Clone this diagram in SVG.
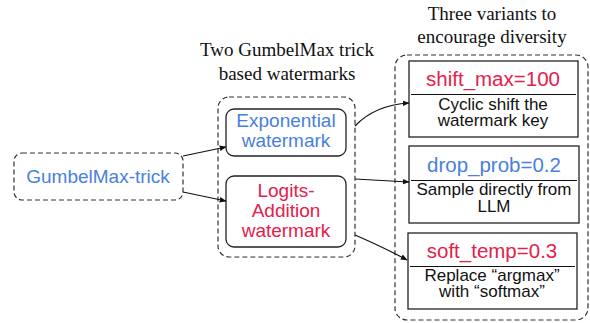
<svg xmlns="http://www.w3.org/2000/svg" width="590" height="323" viewBox="0 0 590 323">
<style>
.dash{fill:none;stroke:#333;stroke-width:1.2;stroke-dasharray:5,3}
.box{fill:#fff;stroke:#222;stroke-width:1.3}
.sans{font-family:"Liberation Sans",Arial,sans-serif;text-anchor:middle}
.serif{font-family:"Liberation Serif","Times New Roman",serif;font-size:19px;text-anchor:middle;fill:#111}
.blue{fill:#4a7fdc}
.red{fill:#e5204a}
.blk{fill:#111;font-size:17px}
.big{font-size:19px}
.param{font-size:20.5px}
.conn{fill:none;stroke:#111;stroke-width:1.2;marker-end:url(#ah)}
.div{stroke:#111;stroke-width:1.2}
</style>
<defs>
<marker id="ah" viewBox="0 0 10 10" refX="9" refY="5" markerWidth="7" markerHeight="7" markerUnits="userSpaceOnUse" orient="auto">
<path d="M0,1 L10,5 L0,9 z" fill="#111"/>
</marker>
</defs>

<g id="title-mid">
<text class="serif" x="287" y="56">Two GumbelMax trick</text>
<text class="serif" x="287" y="80">based watermarks</text>
</g>
<g id="title-right">
<text class="serif" x="492" y="20">Three variants to</text>
<text class="serif" x="492" y="43">encourage diversity</text>
</g>

<g id="gumbel">
<rect class="dash" x="14" y="153" width="169" height="47" rx="8"/>
<text class="sans big blue" x="98" y="183">GumbelMax-trick</text>
</g>

<g id="group-mid">
<rect class="dash" x="218" y="97" width="137" height="160" rx="11"/>
</g>
<g id="exponential">
<rect class="box" x="226" y="109" width="120" height="47" rx="8"/>
<text class="sans big blue" x="286" y="127">Exponential</text>
<text class="sans big blue" x="286" y="147">watermark</text>
</g>
<g id="logits">
<rect class="box" x="226" y="176" width="120" height="71" rx="8"/>
<text class="sans big red" x="286" y="197">Logits-</text>
<text class="sans big red" x="286" y="217">Addition</text>
<text class="sans big red" x="286" y="237">watermark</text>
</g>

<g id="group-right">
<rect class="dash" x="395" y="55" width="193" height="265" rx="12"/>
</g>
<g id="shift">
<rect class="box" x="409" y="61" width="169" height="76"/>
<line class="div" x1="411" y1="94.5" x2="576" y2="94.5"/>
<text class="sans param red" x="493" y="86">shift_max=100</text>
<text class="sans blk" x="493" y="110">Cyclic shift the</text>
<text class="sans blk" x="493" y="126">watermark key</text>
</g>
<g id="drop">
<rect class="box" x="409" y="146" width="170" height="77"/>
<line class="div" x1="411" y1="180.5" x2="577" y2="180.5"/>
<text class="sans param blue" x="494" y="172">drop_prob=0.2</text>
<text class="sans blk" x="494" y="195">Sample directly from</text>
<text class="sans blk" x="494" y="211.5">LLM</text>
</g>
<g id="soft">
<rect class="box" x="408" y="233" width="169" height="76"/>
<line class="div" x1="410" y1="266.5" x2="575" y2="266.5"/>
<text class="sans param red" x="492" y="258">soft_temp=0.3</text>
<text class="sans blk" x="492" y="281">Replace “argmax”</text>
<text class="sans blk" x="492" y="297">with “softmax”</text>
</g>

<g id="connectors">
<path class="conn" d="M183,156 L226,147"/>
<path class="conn" d="M183,192 L226,201"/>
<path class="conn" d="M355,126 Q375,105 409,103"/>
<path class="conn" d="M355,179 L409,182"/>
<path class="conn" d="M355,235 Q385,248 407,260"/>
</g>
</svg>
